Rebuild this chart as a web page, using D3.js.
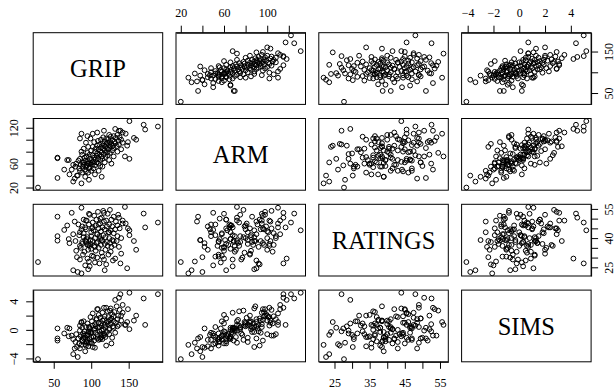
<!DOCTYPE html>
<html>
<head>
<meta charset="utf-8">
<script src="https://cdn.jsdelivr.net/npm/d3@7"></script>
<style>
  html, body { margin: 0; padding: 0; background: #fff; }
  svg { display: block; }
</style>
</head>
<body>
<div id="chart"></div>
<script>
(function () {

  "use strict";

  // variable names shown on the diagonal
  var names = ["GRIP", "ARM", "RATINGS", "SIMS"];

  // one value per worker, same order in every array
  var grip = [
    29, 55, 55, 55, 64, 71, 76, 82, 78, 87, 81, 68, 70, 189, 170, 172, 151, 145, 151, 157,
    149, 146, 139, 137, 117, 87, 85, 114, 127, 115,
    88, 90, 91, 92, 93, 94, 95, 95, 96, 97,
    98, 98, 99, 100, 100, 101, 102, 102, 103, 104,
    104, 105, 105, 106, 106, 107, 107, 108, 108, 109,
    109, 110, 110, 111, 111, 112, 112, 113, 113, 114,
    114, 115, 115, 116, 116, 117, 117, 118, 118, 119,
    119, 120, 120, 121, 121, 122, 122, 123, 123, 124,
    124, 125, 125, 126, 126, 127, 128, 128, 129, 130,
    130, 131, 132, 133, 134, 135, 136, 137, 138, 140, 142, 142,
    84, 86, 85, 88, 89, 90, 92, 93, 94, 96,
    97, 98, 100, 101, 103, 88, 83, 80, 79, 85,
    87, 90, 93, 96, 99, 102, 95, 108, 112, 118,
    124, 130, 135, 140, 105, 110, 92, 97, 74, 76, 160, 132, 148
  ];

  var arm = [
    20, 36, 70, 69, 50, 42, 30, 40, 35, 27, 40, 66, 66, 122, 125, 117, 131, 72, 68, 103,
    96, 110, 115, 115, 115, 110, 102, 38, 60, 55,
    62, 58, 70, 65, 55, 72, 60, 78, 64, 52,
    68, 75, 61, 82, 66, 58, 74, 88, 63, 70,
    96, 57, 80, 67, 85, 73, 62, 90, 77, 69,
    98, 84, 60, 75, 92, 81, 66, 87, 100, 72,
    79, 94, 68, 85, 104, 76, 90, 82, 97, 71,
    88, 102, 93, 79, 86, 95, 74, 101, 84, 91,
    108, 78, 96, 88, 105, 93, 82, 99, 90, 106,
    86, 97, 94, 103, 89, 108, 98, 92, 104, 100, 95, 112,
    52, 58, 48, 45, 55, 62, 50, 47, 56, 45,
    60, 54, 48, 62, 52, 75, 65, 60, 55, 68,
    80, 85, 95, 88, 102, 110, 106, 112, 56, 62,
    66, 72, 80, 84, 42, 48, 38, 33, 50, 58, 100, 118, 90
  ];

  var ratings = [
    27.7, 51.0, 41.0, 38.7, 44.2, 37.4, 23.5, 22.6, 48.5, 21.9, 30.2, 46.5, 39.5, 48.0, 52.6, 45.5, 44.0, 56.0, 41.5, 38.5,
    45.0, 47.5, 27.0, 50.5, 53.0, 55.6, 36.0, 39.0, 35.5, 30.5,
    37.0, 42.5, 33.0, 45.5, 38.0, 49.0, 29.5, 40.5, 36.5, 47.0,
    25.5, 52.0, 39.0, 43.0, 34.5, 31.0, 48.0, 38.5, 44.0, 36.0,
    51.5, 27.5, 40.0, 46.5, 33.5, 37.5, 49.5, 42.0, 30.0, 38.0,
    53.5, 45.0, 35.0, 41.0, 27.0, 47.5, 39.5, 36.5, 43.5, 50.5,
    32.5, 38.5, 45.5, 41.5, 54.0, 29.0, 48.5, 37.0, 44.5, 34.0,
    40.5, 49.0, 26.5, 46.0, 38.0, 52.5, 36.0, 43.0, 31.5, 47.0,
    40.0, 54.5, 37.5, 44.0, 33.0, 49.5, 39.0, 46.0, 28.5, 42.5,
    51.0, 36.5, 44.5, 48.5, 38.5, 41.0, 52.0, 35.5, 45.0, 40.0, 47.5, 49.0,
    41.5, 35.0, 43.0, 46.0, 31.5, 49.5, 26.0, 44.5, 39.5, 34.0,
    52.5, 36.0, 41.0, 45.0, 30.5, 38.0, 47.0, 33.5, 38.5, 29.0,
    44.5, 40.5, 49.0, 24.0, 37.0, 45.5, 36.5, 42.0, 50.0, 23.5,
    43.0, 38.5, 46.5, 32.0, 35.5, 47.0, 39.0, 28.0, 53.0, 42.0, 34.0, 29.5, 24.5
  ];

  var sims = [
    -4.1, -1.2, 0.2, -1.5, -0.5, 0.2, -3.4, -3.8, -2.6, -2.1, -2.4, 0.3, -0.9, 5.0, 4.4, 0.7, 5.2, 0.7, 0.1, 1.3,
    2.9, 0.7, 5.0, 4.5, 3.1, 1.1, 0.6, -1.0, -1.9, -1.3,
    -1.6, -0.8, -0.2, -1.1, -2.2, -1.8, 0.9, -1.4, -0.6, 0.4,
    0.3, 0.1, -0.3, -1.7, -1.0, 1.2, 0.6, -2.4, -0.9, 0.0,
    -1.5, 0.2, 0.8, -0.4, 0.5, 1.4, 1.6, -1.2, -0.7, 0.3,
    2.9, 1.0, 2.1, 0.4, -0.2, 1.7, -1.3, 0.9, -0.6, -0.1,
    0.6, 1.3, 2.4, 0.1, -0.8, -0.5, 1.5, 0.7, 1.9, -1.0,
    0.4, 3.1, -2.2, 1.1, -0.3, 0.8, 2.6, 1.8, 1.2, 0.2,
    -0.6, 2.7, 1.4, 3.0, 0.9, 1.6, -1.1, 2.2, 0.5, 1.9,
    0.3, 2.5, -0.4, 1.0, 3.3, 1.5, 2.0, 0.7, 2.8, 1.3, 2.4, 3.5,
    -1.9, -0.9, -2.6, -1.4, -0.5, -1.2, -2.0, -0.7, -1.6, -2.3,
    -0.2, -1.3, -0.4, -1.9, -1.0, 0.3, -1.2, -0.6, -1.7, -0.1,
    1.0, 1.2, 0.4, -0.3, 1.8, 2.3, -0.8, 2.9, -1.1, -0.7,
    0.0, 1.2, 0.5, 2.0, -2.5, -1.4, -3.0, -1.8, -0.8, -1.3, 2.0, 4.2, 1.1
  ];

  // tick positions and the labels R kept after dropping overlaps
  var gripTicks = [50, 100, 150];
  var gripLabelsSide = [50, 150];
  var gripLabelsBottom = [50, 100, 150];
  var armTicks = [20, 40, 60, 80, 100, 120];
  var armLabelsTop = [20, 60, 100];
  var armLabelsLeft = [20, 60, 120];
  var ratingsTicks = [25, 30, 35, 40, 45, 50, 55];
  var ratingsLabelsSide = [25, 40, 55];
  var ratingsLabelsBottom = [25, 35, 45, 55];
  var simsTicks = [-4, -2, 0, 2, 4];
  var simsLabelsTop = [-4, -2, 0, 2, 4];
  var simsLabelsLeft = [-4, 0, 4];

  var columns = [grip, arm, ratings, sims];

  var W = 615, H = 389;
  var left = 33.2, top = 32.7;
  var pw = 129.5, ph = 71.7;
  var stepX = 142.8, stepY = 85.8;
  var serif = "'Liberation Serif', 'Times New Roman', Times, serif";

  var svg = d3.select("#chart").append("svg")
    .attr("width", W).attr("height", H);

  // R pairs() pads each range by 4% on both sides
  var xs = [], ys = [];
  columns.forEach(function (vals) {
    var e = d3.extent(vals);
    var pad = (e[1] - e[0]) * 0.04;
    xs.push(d3.scaleLinear().domain([e[0] - pad, e[1] + pad]).range([0, pw]));
    ys.push(d3.scaleLinear().domain([e[0] - pad, e[1] + pad]).range([ph, 0]));
  });

  var n = grip.length;

  for (var r = 0; r < 4; r++) {
    for (var c = 0; c < 4; c++) {
      var g = svg.append("g")
        .attr("transform", "translate(" + (left + c * stepX) + "," + (top + r * stepY) + ")");

      if (r === c) {
        g.append("text")
          .attr("x", pw / 2)
          .attr("y", ph / 2 + 8.8)
          .attr("text-anchor", "middle")
          .style("font-family", serif)
          .style("font-size", "24.5px")
          .text(names[r]);
      } else {
        var xv = columns[c], yv = columns[r];
        g.selectAll("circle")
          .data(d3.range(n))
          .enter().append("circle")
          .attr("cx", function (i) { return xs[c](xv[i]); })
          .attr("cy", function (i) { return ys[r](yv[i]); })
          .attr("r", 2.4)
          .attr("fill", "none")
          .attr("stroke", "#000")
          .attr("stroke-width", 1);
      }

      g.append("rect")
        .attr("width", pw).attr("height", ph)
        .attr("fill", "none").attr("stroke", "#000").attr("stroke-width", 1);
    }
  }

  function onlyLabels(list) {
    return function (v) { return list.indexOf(v) >= 0 ? String(v).replace("-", "\u2212") : ""; };
  }

  function styleAxis(sel) {
    sel.selectAll("path").attr("stroke", "#000");
    sel.selectAll("line").attr("stroke", "#000");
    sel.selectAll("text")
      .attr("fill", "#000")
      .style("font-family", serif)
      .style("font-size", "12px");
  }

  // horizontal axes: top on columns 2 and 4, bottom on columns 1 and 3
  function hAxis(col, ticks, labels, onTop) {
    var ax = (onTop ? d3.axisTop(xs[col]) : d3.axisBottom(xs[col]))
      .tickValues(ticks).tickSize(7).tickSizeOuter(0)
      .tickFormat(onlyLabels(labels));
    var y = onTop ? top : top + 3 * stepY + ph;
    var g = svg.append("g")
      .attr("transform", "translate(" + (left + col * stepX) + "," + y + ")")
      .call(ax);
    styleAxis(g);
    g.selectAll("text")
      .attr("dy", null)
      .attr("y", onTop ? -15.4 : 25.2);
  }

  // vertical axes: left on rows 2 and 4, right on rows 1 and 3
  function vAxis(row, ticks, labels, onLeft) {
    var ax = (onLeft ? d3.axisLeft(ys[row]) : d3.axisRight(ys[row]))
      .tickValues(ticks).tickSize(7).tickSizeOuter(0)
      .tickFormat(onlyLabels(labels));
    var x = onLeft ? left : left + 3 * stepX + pw;
    var g = svg.append("g")
      .attr("transform", "translate(" + x + "," + (top + row * stepY) + ")")
      .call(ax);
    styleAxis(g);
    g.selectAll("text")
      .attr("dy", null)
      .attr("x", 0)
      .attr("y", onLeft ? -15.3 : 21.8)
      .attr("text-anchor", "middle")
      .attr("transform", "rotate(-90)");
  }

  hAxis(1, armTicks, armLabelsTop, true);
  hAxis(3, simsTicks, simsLabelsTop, true);
  hAxis(0, gripTicks, gripLabelsBottom, false);
  hAxis(2, ratingsTicks, ratingsLabelsBottom, false);

  vAxis(1, armTicks, armLabelsLeft, true);
  vAxis(3, simsTicks, simsLabelsLeft, true);
  vAxis(0, gripTicks, gripLabelsSide, false);
  vAxis(2, ratingsTicks, ratingsLabelsSide, false);

}());
</script>
</body>
</html>
